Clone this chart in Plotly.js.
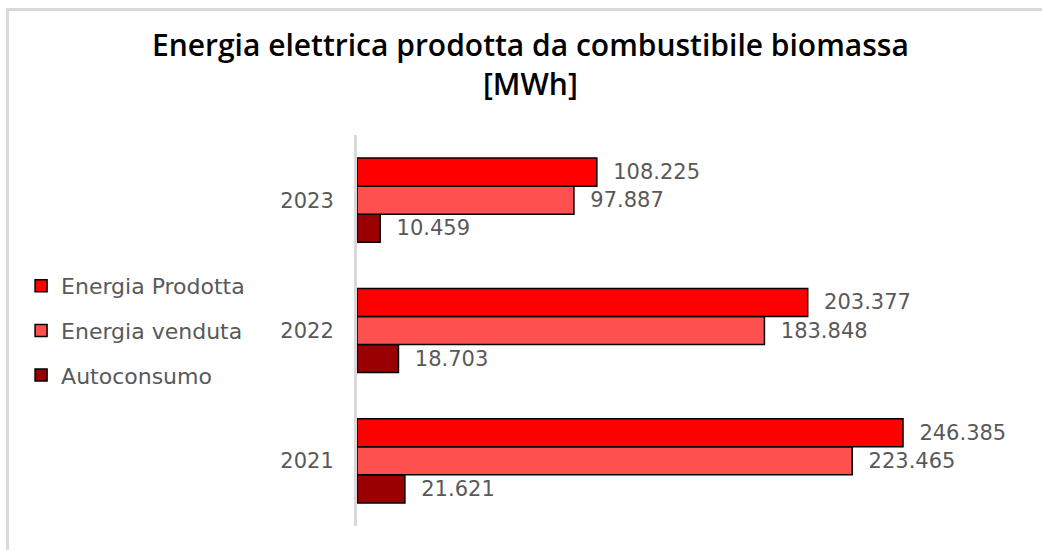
<!DOCTYPE html>
<html>
<head>
<meta charset="utf-8">
<script src="https://cdn.plot.ly/plotly-3.0.1.min.js"></script>
<style>
  html, body { margin: 0; padding: 0; background: #fff; }
  #wrap { position: relative; width: 1042px; height: 550px; }
  #chart { width: 1042px; height: 550px; }
  #frame { position: absolute; left: 6px; top: 8px; right: 0; bottom: 0;
           border-top: 3px solid #d9d9d9; border-left: 3px solid #d9d9d9;
           pointer-events: none; }
</style>
</head>
<body>
<div id="wrap">
  <div id="chart"></div>
  <div id="frame"></div>
</div>
<script>
// Data (MWh)
const years = ['2021', '2022', '2023'];
const energiaProdotta = [246385, 203377, 108225];
const energiaVenduta = [223465, 183848, 97887];
const autoconsumo = [21621, 18703, 10459];

const seriesNames = ['Energia Prodotta', 'Energia venduta', 'Autoconsumo'];
const seriesColors = ['#ff0000', '#ff5050', '#990000'];

const labelFont = { family: 'DejaVu Sans', size: 21, color: '#595959' };
const legendFont = { family: 'DejaVu Sans', size: 22, color: '#595959' };

function makeTrace(name, values, color, group, rank) {
  return {
    type: 'bar',
    orientation: 'h',
    name: name,
    y: years,
    x: values,
    legendgroup: group,
    legendrank: rank,
    marker: { color: color, line: { color: '#000000', width: 1.5 } },
    texttemplate: '\u00a0\u00a0%{x:,.0f}',
    textposition: 'outside',
    textfont: labelFont,
    constraintext: 'none',
    cliponaxis: false,
    hoverinfo: 'x+name'
  };
}

// Order so that "Energia Prodotta" sits at the top of each group
const data = [
  makeTrace(seriesNames[2], autoconsumo, seriesColors[2], 'c', 3),
  makeTrace(seriesNames[1], energiaVenduta, seriesColors[1], 'b', 2),
  makeTrace(seriesNames[0], energiaProdotta, seriesColors[0], 'a', 1)
];

const layout = {
  width: 1042,
  height: 550,
  paper_bgcolor: '#ffffff',
  plot_bgcolor: '#ffffff',
  separators: ',.',
  margin: { l: 357, r: 39, t: 135, b: 24 },
  title: {
    text: 'Energia elettrica prodotta da combustibile biomassa<br>[MWh]',
    font: { family: 'Open Sans', size: 30, color: '#000000', weight: 600 },
    xref: 'container', x: 0.509, xanchor: 'center',
    yref: 'container', y: 1 - 56 / 550, yanchor: 'top'
  },
  barmode: 'group',
  bargap: 0.354,
  bargroupgap: 0,
  xaxis: {
    range: [0, 291500],
    visible: false,
    showgrid: false,
    zeroline: false,
    fixedrange: true
  },
  yaxis: {
    type: 'category',
    categoryorder: 'array',
    categoryarray: years,
    showline: true,
    linecolor: '#d9d9d9',
    linewidth: 3,
    showgrid: false,
    zeroline: false,
    ticks: '',
    ticklabelstandoff: 16,
    tickfont: labelFont,
    fixedrange: true
  },
  showlegend: true,
  legend: {
    traceorder: 'grouped',
    tracegroupgap: 13,
    font: legendFont,
    x: -0.52,
    xanchor: 'left',
    y: 0.5,
    yanchor: 'middle',
    bgcolor: 'rgba(0,0,0,0)'
  }
};

Plotly.newPlot('chart', data, layout, { displayModeBar: false, staticPlot: true });
</script>
</body>
</html>
